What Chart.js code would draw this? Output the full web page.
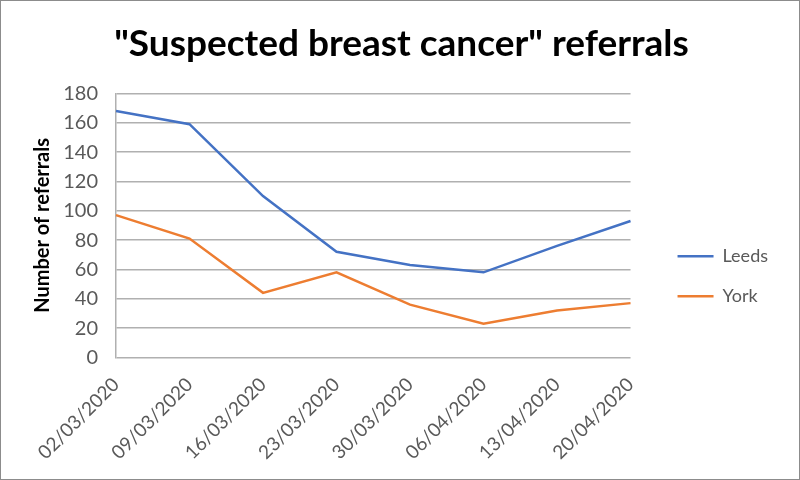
<!DOCTYPE html>
<html>
<head>
<meta charset="utf-8">
<script src="https://cdn.jsdelivr.net/npm/chart.js@4"></script>
<style>
  html, body { margin: 0; padding: 0; background: #fff; }
  #wrap { position: relative; width: 798px; height: 478px; border: 1px solid #8c8c8c; }
</style>
</head>
<body>
<div id="wrap"><canvas id="referralsChart" width="798" height="478"></canvas></div>
<script>
var weeks = ["02/03/2020", "09/03/2020", "16/03/2020", "23/03/2020", "30/03/2020", "06/04/2020", "13/04/2020", "20/04/2020"];
var leeds = [168, 159, 110, 72, 63, 58, 76, 93];
var york = [97, 81, 44, 58, 36, 23, 32, 37];

var font = "Lato, 'Open Sans', sans-serif";
var grey = "#595959";

var ctx = document.getElementById("referralsChart").getContext("2d");
var referralsChart = new Chart(ctx, {
    type: 'line',
    data: {
        labels: weeks,
        datasets: [
            { label: "Leeds", data: leeds, borderColor: "#4472C4", backgroundColor: "#4472C4", borderWidth: 2.5, pointRadius: 0, tension: 0 },
            { label: "York", data: york, borderColor: "#ED7D31", backgroundColor: "#ED7D31", borderWidth: 2.5, pointRadius: 0, tension: 0 }
        ]
    },
    options: {
        responsive: false,
        animation: false,
        layout: { padding: { top: 13, right: 21, left: 24, bottom: -1 } },
        plugins: {
            title: {
                display: true,
                text: '"Suspected breast cancer" referrals',
                color: "#000",
                font: { family: font, size: 37, weight: 'bold' },
                padding: { top: 8, bottom: 27 }
            },
            legend: {
                position: 'right',
                title: { display: true, text: ' ', padding: { top: 4, bottom: 40 } },
                labels: {
                    usePointStyle: true,
                    pointStyle: 'line',
                    pointStyleWidth: 36,
                    boxWidth: 36,
                    padding: 22,
                    color: grey,
                    font: { family: font, size: 18 }
                }
            },
            tooltip: { enabled: false }
        },
        scales: {
            x: {
                offset: false,
                grid: { display: false, drawTicks: false },
                border: { display: false },
                ticks: { color: grey, font: { family: font, size: 19 }, maxRotation: 45, minRotation: 45, padding: 16 }
            },
            y: {
                min: 0,
                max: 180,
                ticks: { stepSize: 20, color: grey, font: { family: font, size: 20 }, padding: 18 },
                grid: { color: "#b0b0b0", lineWidth: 1.5, drawTicks: false },
                border: { display: true, color: "#b0b0b0", width: 1.5 },
                title: { display: true, text: "Number of referrals", color: "#000", font: { family: font, size: 20, weight: 'bold' }, padding: 6 },
                afterFit: function (scale) { scale.width = 91; }
            },
            // empty right-hand axis, only keeps a gap between plot and legend
            gap: {
                type: 'linear',
                position: 'right',
                grid: { display: false },
                border: { display: false },
                ticks: { display: false },
                afterFit: function (scale) { scale.width = 25; }
            }
        }
    }
});
</script>
</body>
</html>
